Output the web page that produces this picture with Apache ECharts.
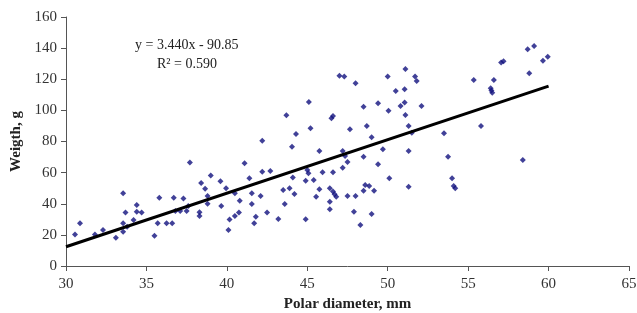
<!DOCTYPE html>
<html>
<head>
<meta charset="utf-8">
<script src="https://cdn.jsdelivr.net/npm/echarts@6/dist/echarts.min.js"></script>
<style>
  html, body { margin: 0; padding: 0; background: #fff; }
  #chart { width: 637px; height: 313px; }
</style>
</head>
<body>
<div id="chart"></div>
<script>
// polar diameter (mm) and weight (g)
const diameter = [
  30.56, 30.87, 31.8, 32.3, 33.1, 33.55, 33.7, 33.55, 33.55, 33.8,
  34.2, 34.4, 34.4, 34.7, 35.5, 35.7, 35.8, 36.25, 36.6, 36.7,
  36.8, 37.1, 37.3, 37.5, 37.6, 37.7, 38.3, 38.3, 38.4, 38.65,
  38.8, 38.8, 39.0, 39.6, 39.65, 39.95, 40.1, 40.17, 40.5, 41.1,
  41.4, 40.8, 41.55, 41.55, 42.1, 42.2, 42.7, 42.2, 40.5, 40.75,
  41.8, 41.7, 42.5, 43.2, 43.6, 43.5, 43.9, 44.2, 44.1, 44.9,
  44.9, 44.05, 44.3, 43.7, 45.0, 45.1, 47.0, 47.3, 48.0, 50.0,
  46.5, 46.6, 45.2, 48.5, 49.4, 50.05, 47.65, 48.7, 49.0, 45.75,
  47.2, 47.35, 47.5, 47.2, 48.5, 49.7, 49.4, 45.07, 45.4, 45.95,
  46.6, 45.75, 45.55, 46.4, 46.6, 46.7, 46.8, 46.4, 46.4, 47.5,
  48.0, 48.6, 48.85, 48.5, 49.15, 47.9, 48.3, 49.0, 51.1, 51.7,
  51.8, 50.5, 51.05, 51.05, 50.8, 52.1, 51.1, 51.3, 51.5, 53.5,
  51.3, 53.75, 50.1, 51.3, 54.0, 54.1, 54.2, 58.7, 59.1, 59.65,
  59.95, 57.05, 57.2, 58.8, 55.35, 56.6, 56.4, 56.45, 56.5, 55.8,
  58.4
]
const weight = [
  20.3, 27.4, 20.3, 23.1, 18.2, 46.7, 34.3, 27.4, 22, 25.3,
  29.6, 39.2, 34.9, 34.3, 19.5, 27.4, 43.9, 27.4, 27.4, 43.9,
  35.3, 35.3, 43.3, 35.3, 38.6, 66.5, 34.6, 32.1, 53.3, 49.6,
  45, 40, 58.2, 54.5, 38.6, 49.9, 23.1, 29.8, 46.7, 66,
  56.4, 42, 46.7, 39.8, 45, 60.6, 61, 80.5, 32.1, 34.3,
  31.7, 27.4, 34.3, 30.2, 39.8, 48.8, 49.9, 46.3, 56.8, 54.8,
  30, 76.7, 84.8, 96.8, 61.7, 105.4, 122.3, 121.7, 117.4, 121.7,
  94.9, 96.4, 88.5, 102.4, 104.6, 99.8, 87.8, 90, 82.7, 73.9,
  73.9, 70.7, 66.8, 63.2, 70.2, 75, 65.4, 59.6, 55.3, 60.2,
  60.2, 49.3, 44.5, 49.9, 47.8, 46.1, 44.5, 41.3, 36.4, 45,
  45, 52, 51.4, 48.4, 48.4, 34.9, 26.3, 33.4, 126.6, 121.7,
  118.9, 112.5, 113.6, 105, 102.8, 102.8, 97, 90, 85.7, 85.3,
  73.9, 70.2, 56.4, 51, 56.4, 51.4, 49.9, 139.3, 141.4, 131.9,
  134.5, 130.7, 131.6, 123.8, 119.5, 119.5, 114.2, 112.7, 111.4, 90,
  68.1
]

// trend line from the printed equation
const slope = 3.44
const intercept = -90.85
const trendX = [30, 60]

const xTicks = [30, 35, 40, 45, 50, 55, 60, 65]
const yTicks = [0, 20, 40, 60, 80, 100, 120, 140, 160]

const points = diameter.map((d, i) => [d, weight[i]])
const trend = trendX.map(x => [x, slope * x + intercept])

const serif = 'Liberation Serif'
const chart = echarts.init(document.getElementById('chart'))

chart.setOption({
  animation: false,
  grid: { left: 66, right: 8, top: 17, bottom: 47, outerBoundsMode: 'none' },
  xAxis: {
    type: 'value',
    min: xTicks[0],
    max: xTicks[xTicks.length - 1],
    interval: 5,
    splitLine: { show: false },
    axisLine: { lineStyle: { color: '#555', width: 1 } },
    axisTick: { length: 5, lineStyle: { color: '#555' } },
    axisLabel: { fontFamily: serif, fontSize: 15, color: '#333', margin: 11 },
    name: 'Polar diameter, mm',
    nameLocation: 'middle',
    nameGap: 27,
    nameTextStyle: { fontFamily: serif, fontSize: 15, fontWeight: 'bold', color: '#222' }
  },
  yAxis: {
    type: 'value',
    min: yTicks[0],
    max: yTicks[yTicks.length - 1],
    interval: 20,
    splitLine: { show: false },
    axisLine: { show: true, lineStyle: { color: '#555', width: 1 } },
    axisTick: { show: true, length: 5, lineStyle: { color: '#555' } },
    axisLabel: { fontFamily: serif, fontSize: 15, color: '#333', margin: 9 },
    name: 'Weigth, g',
    nameLocation: 'middle',
    nameGap: 41,
    nameTextStyle: { fontFamily: serif, fontSize: 15, fontWeight: 'bold', color: '#222' }
  },
  graphic: [
    {
      type: 'text', left: 135, top: 38,
      style: { text: 'y = 3.440x - 90.85', font: '14px "Liberation Serif"', fill: '#222' }
    },
    {
      type: 'text', left: 157, top: 57,
      style: { text: 'R² = 0.590', font: '14px "Liberation Serif"', fill: '#222' }
    }
  ],
  series: [
    {
      type: 'scatter',
      data: points,
      symbol: 'diamond',
      symbolSize: 6,
      itemStyle: { color: '#12127e' }
    },
    {
      type: 'line',
      data: trend,
      symbol: 'none',
      lineStyle: { color: '#000', width: 3 }
    }
  ]
})
</script>
</body>
</html>
